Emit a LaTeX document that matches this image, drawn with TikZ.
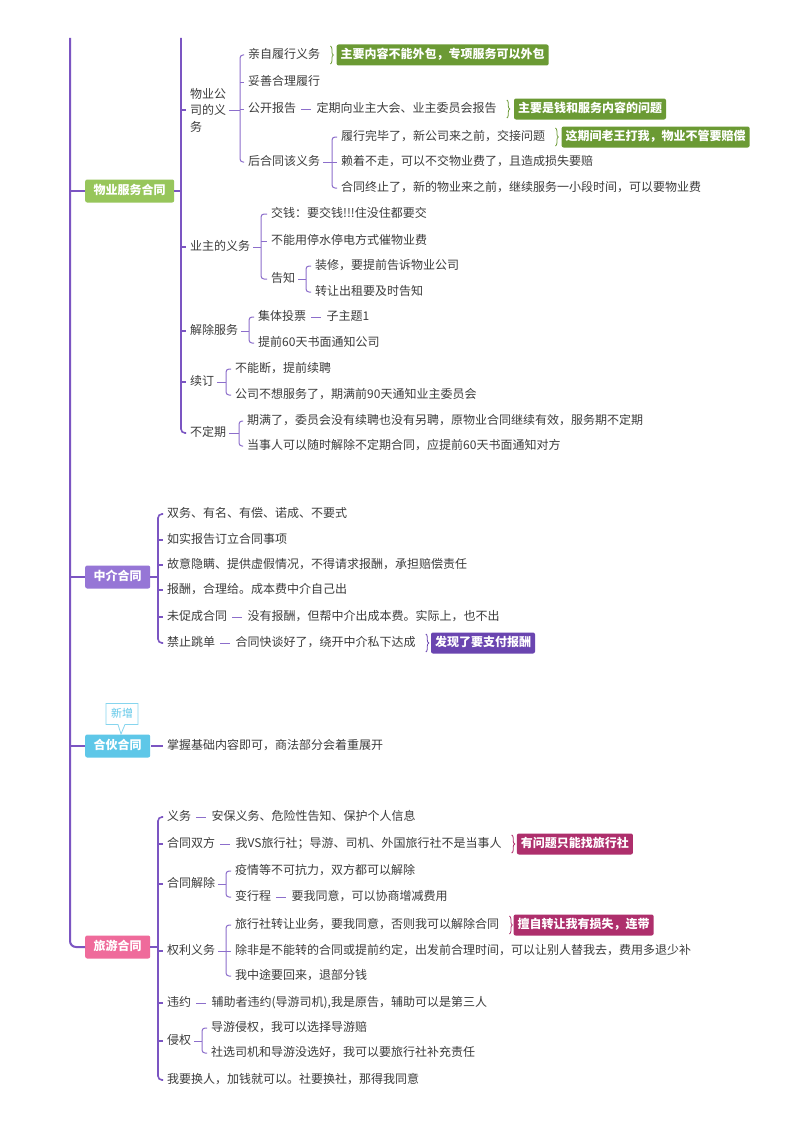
\documentclass[tikz,border=0pt]{standalone}
\usepackage{fontspec}
\setmainfont{Noto Sans CJK SC}
\usetikzlibrary{decorations.pathreplacing,calc,shapes.callouts}

\definecolor{txt}{HTML}{3C3C3C}
\definecolor{spine}{HTML}{7B55C2}
\definecolor{brcol}{HTML}{8C6ECB}
\definecolor{gA}{HTML}{97C65B}
\definecolor{gB}{HTML}{6B9A34}
\definecolor{pA}{HTML}{9676D6}
\definecolor{pB}{HTML}{6A45B0}
\definecolor{cA}{HTML}{5EC7E8}
\definecolor{rA}{HTML}{EF6B9B}
\definecolor{rB}{HTML}{AE2F6C}

\tikzset{
 tbase/.style={anchor=west,inner sep=0pt,text=txt,font=\fontsize{12}{14}\selectfont},
 t/.style={tbase,text height=9.5pt,text depth=2.5pt},
 root/.style={anchor=west,fill=#1,text=white,font=\fontsize{12}{14}\selectfont\bfseries,
   rounded corners=2pt,inner xsep=8.5pt,inner ysep=0pt,minimum height=23pt,text height=9.5pt,text depth=2.5pt},
 note/.style={anchor=west,fill=#1,text=white,font=\fontsize{12}{14}\selectfont\bfseries,
   rounded corners=2pt,inner xsep=4pt,inner ysep=0pt,minimum height=21pt,text height=9.5pt,text depth=2.5pt},
 spn/.style={draw=spine,line width=2pt,rounded corners=6pt},
 sp2/.style={draw=spine,line width=1.6pt,rounded corners=4pt},
 brl/.style={draw=brcol,line width=1pt,rounded corners=3pt},
 bracestyle/.style={draw=#1,line width=0.8pt,decorate,decoration={brace,amplitude=3pt}},
}

\newcommand\mybr[5][brl]{%
  \coordinate (bx) at (#3,0);
  \draw[#1] ([xshift=3pt]#2.east) -- (bx |- #2.east);
  \draw[#1] ([xshift=-4pt]#4.west) -- (bx |- #4.west) -- (bx |- #5.west) -- ([xshift=-4pt]#5.west);
}
\newcommand\mytk[2][brl]{\draw[#1] (bx |- #2.west) -- ([xshift=-4pt]#2.west);}
\newcommand\mydash[2]{\draw[brl] ([xshift=5pt]#1.east) -- ([xshift=-5pt]#2.west);}
\newcommand\mynote[4][17pt]{% #2 anchor node, #3 color, #4 text
  \draw[bracestyle=#3] ([xshift=10pt,yshift=9pt]#2.east) -- ([xshift=10pt,yshift=-9pt]#2.east);
  \node[note=#3] (#2n) at ([xshift=#1]#2.east) {#4};
}

\begin{document}
\begin{tikzpicture}[x=1pt,y=-1pt]
\useasboundingbox (0,0) rectangle (800,1132);
\fill[white] (0,0) rectangle (800,1132);

% ---------- roots ----------
\node[root=gA] (R1) at (85,191) {物业服务合同};
\node[root=pA] (R2) at (85,577) {中介合同};
\node[root=cA] (R3) at (85,746) {合伙合同};
\node[root=rA] (R4) at (85,947) {旅游合同};

\coordinate (top1) at (70,38);
\draw[spn] (top1) -- (top1 |- R4.west) -- (R4.west);
\draw[spn] (top1 |- R1.west) -- (R1.west);
\draw[spn] (top1 |- R2.west) -- (R2.west);
\draw[spn] (top1 |- R3.west) -- (R3.west);

\coordinate (ptr) at (121,734);
\node[rectangle callout,draw=cA!75,fill=white,text=cA,line width=0.8pt,
  font=\fontsize{11}{13}\selectfont,inner xsep=5pt,inner ysep=0pt,minimum height=21pt,
  text height=8.5pt,text depth=2pt,callout absolute pointer=(ptr),callout pointer width=7pt]
  (NEW) at (122,714) {新增};

% ---------- 物业服务合同 ----------
\node[tbase,align=left,font=\fontsize{12}{16.5}\selectfont] (A1) at (190,110) {物业公\\司的义\\务};
\node[t] (A2) at (190,247) {业主的义务};
\node[t] (A3) at (190,331) {解除服务};
\node[t] (A4) at (190,382) {续订};
\node[t] (A5) at (190,433) {不定期};

\coordinate (top2) at (181,38);
\draw[sp2] (top2) -- (top2 |- A5.west) -- ([xshift=-4pt]A5.west);
\draw[sp2] (R1.east) -- (top2 |- R1.east);
\foreach \n in {A1,A2,A3,A4}{\draw[sp2] (top2 |- \n.west) -- ([xshift=-4pt]\n.west);}

% 物业公司的义务
\node[t] (A11) at (248,55) {亲自履行义务};
\node[t] (A12) at (248,82) {妥善合理履行};
\node[t] (A13) at (248,109) {公开报告};
\node[t] (A13a) at ([xshift=20pt]A13.east) {定期向业主大会、业主委员会报告};
\node[t] (A14) at (248,162) {后合同该义务};
\mybr{A1}{240}{A11}{A14}
\mytk{A12}\mytk{A13}
\mydash{A13}{A13a}
\mynote[16pt]{A11}{gB}{主要内容不能外包，专项服务可以外包}
\mynote{A13a}{gB}{主要是钱和服务内容的问题}

\node[t] (A141) at (341,137) {履行完毕了，新公司来之前，交接问题};
\node[t] (A142) at (341,162) {赖着不走，可以不交物业费了，且造成损失要赔};
\node[t] (A143) at (341,188) {合同终止了，新的物业来之前，继续服务一小段时间，可以要物业费};
\mybr{A14}{332}{A141}{A143}
\mytk{A142}
\mynote[16pt]{A141}{gB}{这期间老王打我，物业不管要赔偿}

% 业主的义务
\node[t] (A21) at (271,214) {交钱：要交钱!!!住没住都要交};
\node[t] (A22) at (271,241) {不能用停水停电方式催物业费};
\node[t] (A23) at (271,279) {告知};
\mybr{A2}{261}{A21}{A23}
\mytk{A22}
\node[t] (A231) at (315,266) {装修，要提前告诉物业公司};
\node[t] (A232) at (315,292) {转让出租要及时告知};
\mybr{A23}{306}{A231}{A232}

% 解除服务
\node[t] (A31) at (258,317) {集体投票};
\node[t] (A31a) at ([xshift=20pt]A31.east) {子主题1};
\node[t] (A32) at (258,343) {提前60天书面通知公司};
\mybr{A3}{249}{A31}{A32}
\mydash{A31}{A31a}

% 续订
\node[t] (A41) at (235,369) {不能断，提前续聘};
\node[t] (A42) at (235,395) {公司不想服务了，期满前90天通知业主委员会};
\mybr{A4}{226}{A41}{A42}

% 不定期
\node[t] (A51) at (247,421) {期满了，委员会没有续聘也没有另聘，原物业合同继续有效，服务期不定期};
\node[t] (A52) at (247,446) {当事人可以随时解除不定期合同，应提前60天书面通知对方};
\mybr{A5}{239}{A51}{A52}

% ---------- 中介合同 ----------
\node[t] (B1) at (167,514) {双务、有名、有偿、诺成、不要式};
\node[t] (B2) at (167,540) {如实报告订立合同事项};
\node[t] (B3) at (167,565) {故意隐瞒、提供虚假情况，不得请求报酬，承担赔偿责任};
\node[t] (B4) at (167,590) {报酬，合理给。成本费中介自己出};
\node[t] (B5) at (167,617) {未促成合同};
\node[t] (B5a) at ([xshift=20pt]B5.east) {没有报酬，但帮中介出成本费。实际上，也不出};
\node[t] (B6) at (167,643) {禁止跳单};
\node[t] (B6a) at ([xshift=20pt]B6.east) {合同快谈好了，绕开中介私下达成};
\coordinate (bz) at (158,0);
\draw[sp2] (R2.east) -- (bz |- R2.east);
\draw[sp2] ([xshift=-4pt]B1.west) -- (bz |- B1.west) -- (bz |- B6.west) -- ([xshift=-4pt]B6.west);
\foreach \n in {B2,B3,B4,B5}{\draw[sp2] (bz |- \n.west) -- ([xshift=-4pt]\n.west);}
\mydash{B5}{B5a}
\mydash{B6}{B6a}
\mynote[15pt]{B6a}{pB}{发现了要支付报酬}

% ---------- 合伙合同 ----------
\node[t] (C1) at (167,746) {掌握基础内容即可，商法部分会着重展开};
\draw[sp2] ([xshift=1pt]R3.east) -- ([xshift=-4pt]C1.west);

% ---------- 旅游合同 ----------
\node[t] (D1) at (167,817) {义务};
\node[t] (D1a) at ([xshift=20pt]D1.east) {安保义务、危险性告知、保护个人信息};
\node[t] (D2) at (167,844) {合同双方};
\node[t] (D2a) at ([xshift=20pt]D2.east) {我VS旅行社；导游、司机、外国旅行社不是当事人};
\node[t] (D3) at (167,884) {合同解除};
\node[t] (D4) at (167,951) {权利义务};
\node[t] (D5) at (167,1003) {违约};
\node[t] (D5a) at ([xshift=20pt]D5.east) {辅助者违约(导游司机),我是原告，辅助可以是第三人};
\node[t] (D6) at (167,1041) {侵权};
\node[t] (D7) at (167,1080) {我要换人，加钱就可以。社要换社，那得我同意};
\coordinate (by) at (158,0);
\draw[sp2] (R4.east) -- (by |- R4.east);
\draw[sp2] ([xshift=-4pt]D1.west) -- (by |- D1.west) -- (by |- D7.west) -- ([xshift=-4pt]D7.west);
\foreach \n in {D2,D3,D4,D5,D6}{\draw[sp2] (by |- \n.west) -- ([xshift=-4pt]\n.west);}
\mydash{D1}{D1a}
\mydash{D2}{D2a}
\mydash{D5}{D5a}
\mynote[15pt]{D2a}{rB}{有问题只能找旅行社}

\node[t] (D31) at (235,871) {疫情等不可抗力，双方都可以解除};
\node[t] (D32) at (235,897) {变行程};
\node[t] (D32a) at ([xshift=20pt]D32.east) {要我同意，可以协商增减费用};
\mybr{D3}{226}{D31}{D32}
\mydash{D32}{D32a}

\node[t] (D41) at (235,925) {旅行社转让业务，要我同意，否则我可以解除合同};
\node[t] (D42) at (235,951) {除非是不能转的合同或提前约定，出发前合理时间，可以让别人替我去，费用多退少补};
\node[t] (D43) at (235,976) {我中途要回来，退部分钱};
\mybr{D4}{226}{D41}{D43}
\mytk{D42}
\mynote[14pt]{D41}{rB}{擅自转让我有损失，连带}

\node[t] (D61) at (211,1028) {导游侵权，我可以选择导游赔};
\node[t] (D62) at (211,1053) {社选司机和导游没选好，我可以要旅行社补充责任};
\mybr{D6}{202}{D61}{D62}

\end{tikzpicture}
\end{document}
